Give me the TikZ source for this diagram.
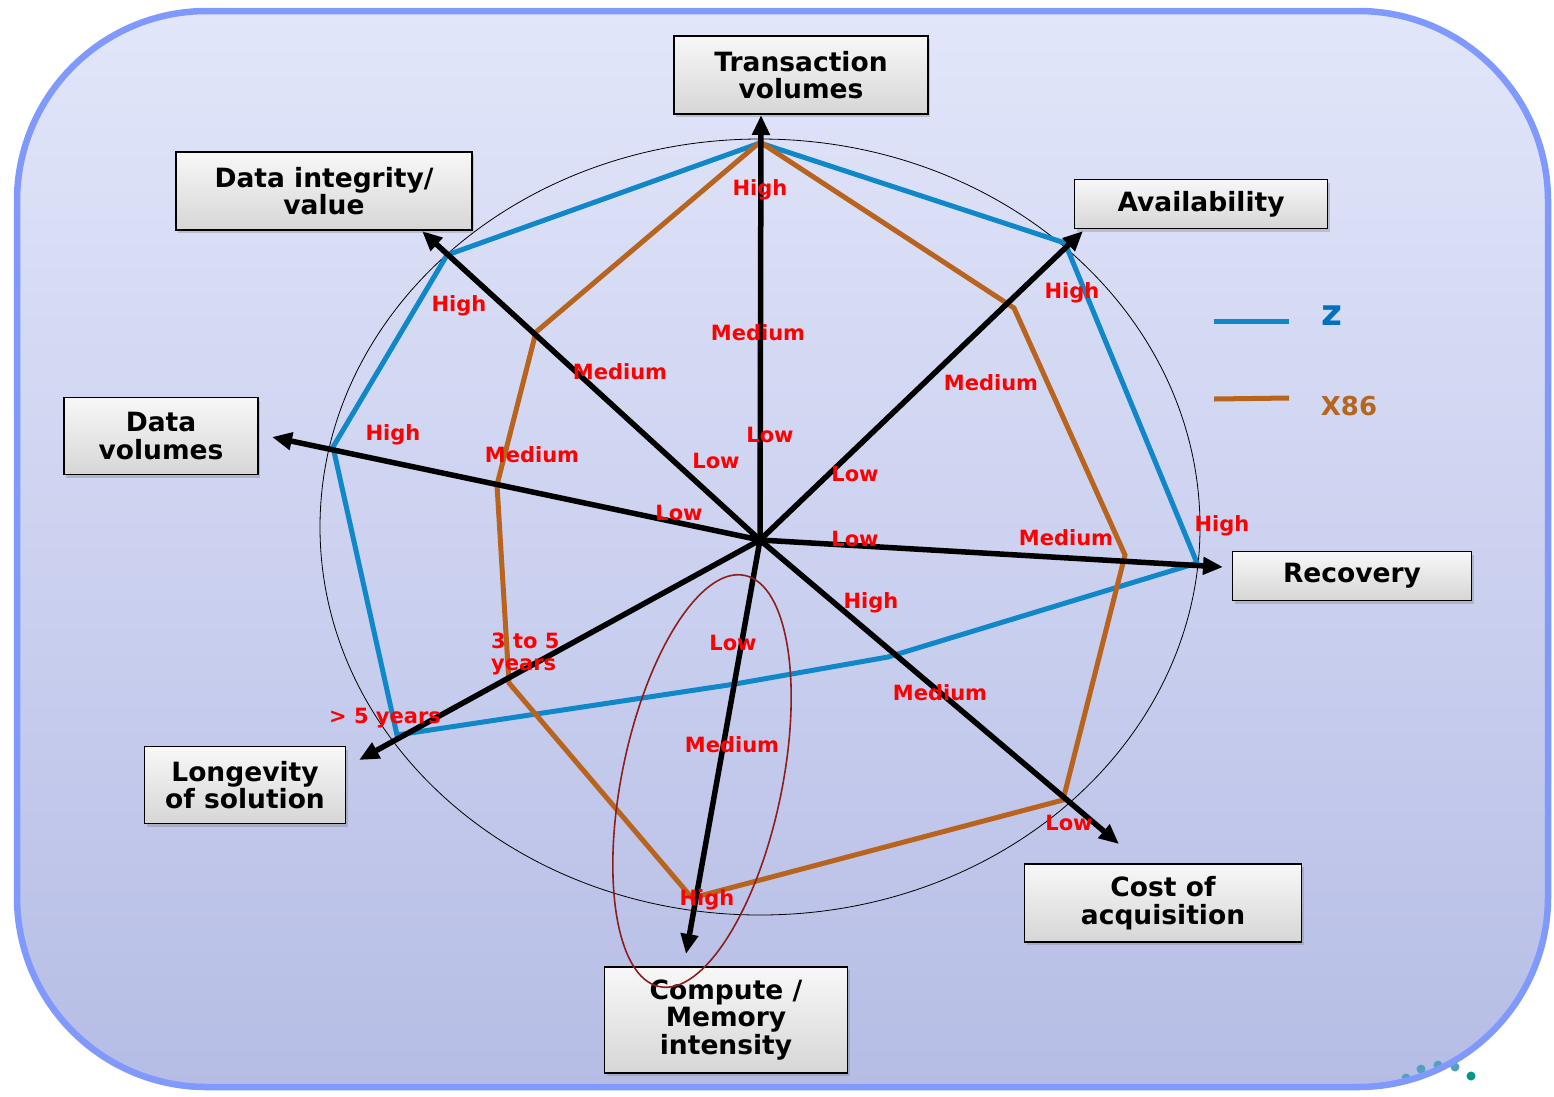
\documentclass[tikz,border=0pt]{standalone}
\usepackage{fontspec}
\setmainfont{DejaVu Sans}
\usetikzlibrary{arrows.meta,shadows}
\definecolor{bgtop}{RGB}{226,230,250}
\definecolor{bgbot}{RGB}{182,189,229}
\definecolor{bgborder}{RGB}{128,153,255}
\definecolor{zblue}{RGB}{16,135,200}
\definecolor{xorange}{RGB}{184,100,30}
\definecolor{zlegend}{RGB}{0,112,192}
\definecolor{xlegend}{RGB}{181,101,29}
\definecolor{ellred}{RGB}{140,30,30}
\definecolor{dotblue}{RGB}{80,160,190}
\definecolor{dotteal}{RGB}{0,150,136}
\tikzset{
  lab/.style={text=red, font=\bfseries\fontsize{21}{23}\selectfont, inner sep=0pt},
  box/.style={draw=black, line width=1.8pt, top color=gray!6, bottom color=gray!32,
    font=\bfseries\fontsize{26.5}{27.5}\selectfont, align=center, inner sep=0pt,
    drop shadow={opacity=0.35, shadow xshift=2pt, shadow yshift=-3pt}},
  axis/.style={line width=5.5pt, -{Triangle[length=20pt,width=17pt]}},
  zline/.style={draw=zblue, line width=5pt, line join=miter},
  xline/.style={draw=xorange, line width=5pt, line join=miter},
}
\begin{document}
\begin{tikzpicture}[x=1pt,y=-1pt]
\useasboundingbox (0,0) rectangle (1554,1096);
% background
\fill[top color=bgtop, bottom color=bgbot, rounded corners=190pt,
  drop shadow={opacity=0.3, shadow xshift=-2pt, shadow yshift=-3pt}]
  (17,11) rectangle (1548,1087);
\foreach \px/\py in {1406/1078,1421/1069,1438/1065,1455/1067}
  \fill[dotblue] (\px,\py) circle (4.5);
\fill[dotteal] (1471,1076) circle (4.5);
\draw[bgborder, line width=6.5pt, rounded corners=190pt] (17,11) rectangle (1548,1087);
% reference circle
\draw[black, line width=0.8pt] (760,527) ellipse [x radius=440, y radius=388];
% data polygons
\draw[zline] (760,143) -- (1065,243) -- (1197,563) -- (888,657) -- (735,684)
  -- (397,735) -- (333,447) -- (447,255) -- cycle;
\draw[xline] (760,142) -- (1014,308) -- (1125,555) -- (1063,800) -- (692,898)
  -- (509,683) -- (497,485) -- (536,332) -- cycle;
% axes
\coordinate (O) at (760,540);
\coordinate (tTrans) at (761,115);
\coordinate (tAvail) at (1083,231);
\coordinate (tRecov) at (1223,567);
\coordinate (tCost) at (1119,844);
\coordinate (tComp) at (686,954);
\coordinate (tLong) at (359,760);
\coordinate (tDvol) at (272,437);
\coordinate (tDint) at (422,231);
\foreach \t in {tTrans,tAvail,tRecov,tCost,tComp,tLong,tDvol,tDint}
  \draw[axis] (O) -- (\t);
% red level labels
\node[lab] (l1) at (760,190) {High};
\node[lab] (l2) at (758,333) {Medium};
\node[lab] (l3) at (770,435) {Low};
\node[lab] (l4) at (459,306) {High};
\node[lab] (l5) at (620,372) {Medium};
\node[lab] (l6) at (716,461) {Low};
\node[lab] (l7) at (393,435) {High};
\node[lab] (l8) at (532,455) {Medium};
\node[lab] (l9) at (679,513) {Low};
\node[lab] (l10) at (1072,293) {High};
\node[lab] (l11) at (991,383) {Medium};
\node[lab] (l12) at (855,474) {Low};
\node[lab] (l13) at (1222,526) {High};
\node[lab] (l14) at (1066,538) {Medium};
\node[lab] (l15) at (855,539) {Low};
\node[lab] (l16) at (871,603) {High};
\node[lab] (l17) at (940,693) {Medium};
\node[lab] (l18) at (1069,823) {Low};
\node[lab] (l19) at (733,643) {Low};
\node[lab] (l20) at (732,745) {Medium};
\node[lab] (l21) at (707,900) {High};
\node[lab, align=left, anchor=north west] (l22) at (491,633) {3 to 5\\[-1pt]years};
\node[lab] (l23) at (385,718) {> 5 years};
% axis boxes
\node[box, minimum width=254pt, minimum height=78pt] (bTrans) at (801,75) {Transaction\\volumes};
\node[box, minimum width=296pt, minimum height=78pt] (bDint) at (324,191) {Data integrity/\\value};
\node[box, minimum width=253pt, minimum height=49pt] (bAvail) at (1201,204) {Availability};
\node[box, minimum width=194pt, minimum height=77pt] (bDvol) at (161,436) {Data\\volumes};
\node[box, minimum width=239pt, minimum height=49pt] (bRecov) at (1352,576) {Recovery};
\node[box, minimum width=201pt, minimum height=77pt] (bLong) at (245,785) {Longevity\\of solution};
\node[box, minimum width=277pt, minimum height=78pt] (bCost) at (1163,903) {Cost of\\acquisition};
\node[box, minimum width=243pt, minimum height=106pt] (bComp) at (726,1020) {Compute /\\Memory\\intensity};
% legend
\coordinate (zA) at (1214,321); \coordinate (zB) at (1289,321);
\coordinate (xA) at (1214,399); \coordinate (xB) at (1289,398);
\draw[zline] (zA) -- (zB);
\draw[xline] (xA) -- (xB);
\node[text=zlegend, font=\bfseries\fontsize{36}{38}\selectfont, inner sep=0pt] (zlab) at (1332,316) {z};
\node[text=xlegend, font=\bfseries\fontsize{26}{28}\selectfont, inner sep=0pt] (xlab) at (1349,406) {X86};
% highlight ellipse
\begin{scope}[shift={(702,781)}, rotate=-11.7]
\draw[ellred, line width=1.6pt] (0,0) ellipse [x radius=80, y radius=210];
\end{scope}
\end{tikzpicture}
\end{document}
